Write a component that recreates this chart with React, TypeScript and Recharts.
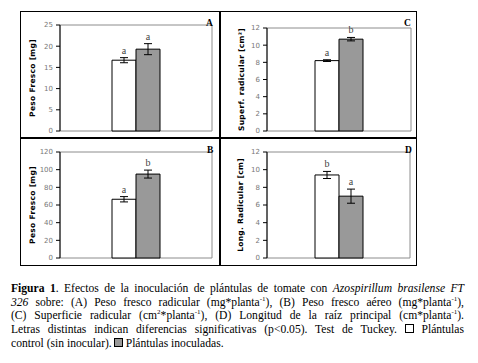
import React from "react";
import { BarChart, Bar, XAxis, YAxis, ErrorBar, ReferenceArea, LabelList, Label } from "recharts";

// panels in order A, B, C, D
const panelIds = ["A", "B", "C", "D"];
const yTitles = ["Peso Fresco [mg]", "Peso Fresco [mg]", "Superf. radicular [cm²]", "Long. Radicular [cm]"];
const yMax = [25, 120, 12, 12];
const yTicks = [
  [0, 5, 10, 15, 20, 25],
  [0, 20, 40, 60, 80, 100, 120],
  [0, 2, 4, 6, 8, 10, 12],
  [0, 2, 4, 6, 8, 10, 12],
];
const controlMean = [16.7, 66.5, 8.2, 9.4];
const controlErr = [0.6, 3, 0.1, 0.4];
const controlLetter = ["a", "a", "a", "b"];
const inocMean = [19.3, 95, 10.7, 7.0];
const inocErr = [1.3, 4.5, 0.2, 0.8];
const inocLetter = ["a", "b", "b", "a"];

const serif = '"Liberation Serif", "Times New Roman", Times, serif';

const boxes = [
  { left: 21, top: 11, w: 199, yw: 39, mt: 14, mr: 8, lab: 11, lx: 185, ly: 7 },
  { left: 21, top: 138, w: 199, yw: 39, mt: 14, mr: 8, lab: 11, lx: 186, ly: 7 },
  { left: 220, top: 11, w: 196, yw: 47, mt: 17, mr: 5, lab: 21, lx: 184, ly: 7 },
  { left: 220, top: 138, w: 196, yw: 47, mt: 14, mr: 6, lab: 20, lx: 185, ly: 7 },
];

const letterLabel = (mean: number, err: number, letter: string) => (props: any) => {
  const vb = props.viewBox ?? props;
  const { x, y, width, height } = vb;
  const perUnit = Math.abs(height) / mean;
  return (
    <text x={x + width / 2} y={y - err * perUnit - 4} textAnchor="middle"
      fontSize={10} fontFamily={serif} fill="#444">{letter}</text>
  );
};

function Panel({ i }: { i: number }) {
  const b = boxes[i];
  const data = [{ name: panelIds[i], control: controlMean[i], cErr: controlErr[i], inoc: inocMean[i], iErr: inocErr[i] }];
  return (
    <div style={{ position: "absolute", left: b.left, top: b.top }}>
      <BarChart width={b.w} height={127} data={data} barGap={0} barSize={24}
        margin={{ top: b.mt, right: b.mr, bottom: 7, left: 0 }}>
        <XAxis dataKey="name" hide />
        <YAxis domain={[0, yMax[i]]} ticks={yTicks[i]} interval={0} width={b.yw}
          tick={{ fontSize: 7, fill: "#777", fontFamily: "DejaVu Sans" }}
          tickSize={4} tickMargin={3}
          axisLine={{ stroke: "#000" }} tickLine={{ stroke: "#000" }}>
          <Label value={yTitles[i]} angle={-90} position="insideLeft" offset={b.lab}
            style={{ textAnchor: "middle", fontSize: 7.5, fontWeight: "bold", fontFamily: "DejaVu Sans", fill: "#000", letterSpacing: 0.3 }} />
        </YAxis>
        <ReferenceArea y1={0} y2={yMax[i]} stroke="#8c8c8c" fill="none" fillOpacity={0} ifOverflow="visible" />
        <Bar dataKey="control" fill="#ffffff" stroke="#000" strokeWidth={1} isAnimationActive={false}>
          <ErrorBar dataKey="cErr" width={4} stroke="#000" strokeWidth={1} direction="y" isAnimationActive={false} />
          <LabelList dataKey="control" content={letterLabel(controlMean[i], controlErr[i], controlLetter[i])} />
        </Bar>
        <Bar dataKey="inoc" fill="#999999" stroke="#000" strokeWidth={1} isAnimationActive={false}>
          <ErrorBar dataKey="iErr" width={4} stroke="#000" strokeWidth={1} direction="y" isAnimationActive={false} />
          <LabelList dataKey="inoc" content={letterLabel(inocMean[i], inocErr[i], inocLetter[i])} />
        </Bar>
      </BarChart>
      <div style={{ position: "absolute", left: b.lx, top: b.ly, fontFamily: serif, fontWeight: "bold", fontSize: 9.5, lineHeight: "10px" }}>
        {panelIds[i]}
      </div>
    </div>
  );
}

const lineStyle: React.CSSProperties = {
  whiteSpace: "nowrap", textAlign: "justify", textAlignLast: "justify" as any, height: 13.7,
};
const sup: React.CSSProperties = { fontSize: 7, verticalAlign: "top", lineHeight: "7px", position: "relative", top: 0 };
const box = (bg: string): React.CSSProperties => ({
  display: "inline-block", width: 7, height: 7, border: "1px solid #000", background: bg,
});

export default function App() {
  return (
    <div style={{ position: "relative", left: -8, top: -8, width: 478, height: 363, background: "#fff" }}>
      {[0, 1, 2, 3].map((i) => <Panel key={i} i={i} />)}
      {/* frames */}
      <div style={{ position: "absolute", left: 20, top: 11, width: 397, height: 255, boxSizing: "border-box", border: "1px solid #000" }} />
      <div style={{ position: "absolute", left: 219, top: 11, width: 2, height: 255, background: "#000" }} />
      <div style={{ position: "absolute", left: 20, top: 137, width: 397, height: 1.5, background: "#000" }} />
      {/* caption */}
      <div style={{ position: "absolute", left: 11, top: 282, width: 453, fontFamily: serif, fontSize: 11.6, lineHeight: "13.7px", color: "#000" }}>
        <div style={lineStyle}>
          <b>Figura 1</b>. Efectos de la inoculación de plántulas de tomate con <i>Azospirillum brasilense FT</i>
        </div>
        <div style={lineStyle}>
          <i>326</i> sobre: (A) Peso fresco radicular (mg*planta<span style={sup}>-1</span>), (B) Peso fresco aéreo (mg*planta<span style={sup}>-1</span>),
        </div>
        <div style={lineStyle}>
          (C) Superficie radicular (cm<span style={sup}>2</span>*planta<span style={sup}>-1</span>), (D) Longitud de la raíz principal (cm*planta<span style={sup}>-1</span>).
        </div>
        <div style={lineStyle}>
          Letras distintas indican diferencias significativas (p&lt;0.05). Test de Tuckey. <span style={box("#fff")} /> Plántulas
        </div>
        <div style={{ whiteSpace: "nowrap", height: 13.7 }}>
          control (sin inocular).<span style={{ ...box("#999"), marginLeft: 2 }} /> Plántulas inoculadas.
        </div>
      </div>
    </div>
  );
}
